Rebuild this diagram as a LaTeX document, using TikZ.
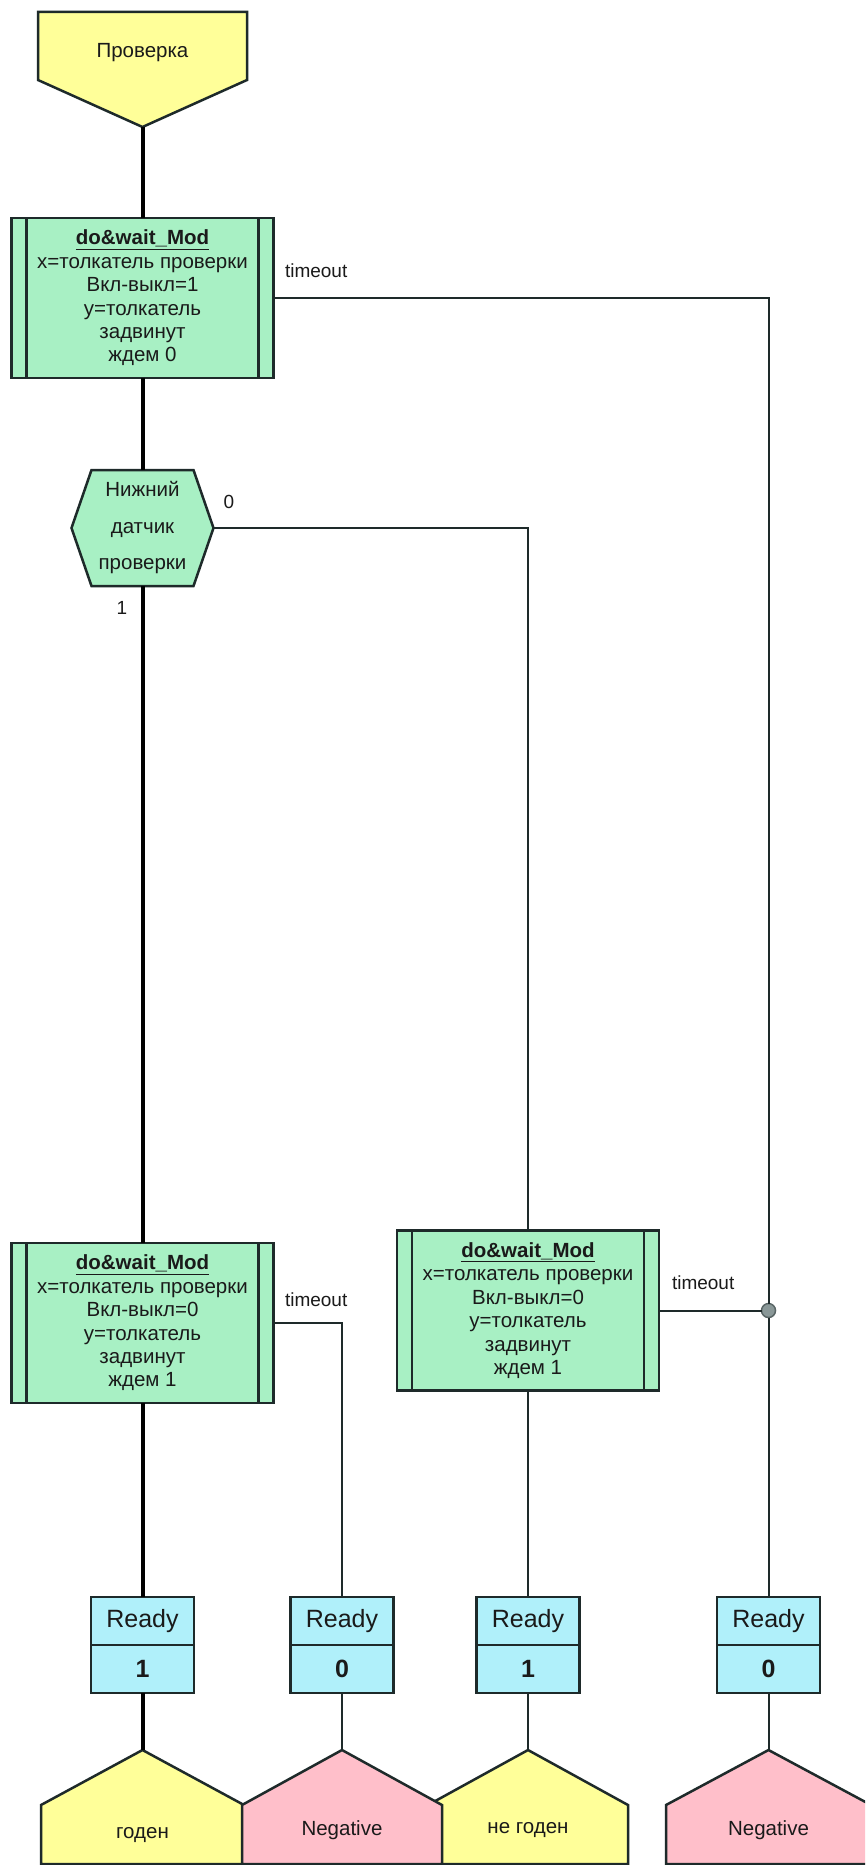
\documentclass[tikz,border=0pt]{standalone}
\usepackage{fontspec}
\setmainfont{Liberation Sans}
\usetikzlibrary{positioning,calc}
\definecolor{yel}{HTML}{FFFF99}
\definecolor{grn}{HTML}{A8F0C4}
\definecolor{pnk}{HTML}{FFBFCA}
\definecolor{cyn}{HTML}{B0F0FA}
\definecolor{edge}{HTML}{1E2A2A}
\definecolor{txt}{HTML}{1A1A1A}
\definecolor{jgray}{HTML}{8A9898}
\definecolor{jedge}{HTML}{5A6666}
\begin{document}
\begin{tikzpicture}[x=1pt,y=-1pt,
  every node/.style={text=txt, inner sep=0pt, outer sep=0pt},
  fnt/.style={font=\fontsize{20.5}{23.4}\selectfont},
  lbl/.style={font=\fontsize{19}{22}\selectfont},
  shapeline/.style={draw=edge, line width=2.5pt, line join=miter},
  modbox/.style={shapeline, fill=grn, minimum width=262pt, minimum height=160pt, align=center, fnt},
  innerline/.style={draw=edge, line width=2.5pt},
  hextext/.style={minimum width=142pt, minimum height=116pt, align=center, font=\fontsize{20.5}{36.5}\selectfont},
  rtop/.style={shapeline, fill=cyn, minimum width=103pt, minimum height=48pt, font=\fontsize{25}{28}\selectfont},
  rbot/.style={shapeline, fill=cyn, minimum width=103pt, minimum height=48pt, font=\fontsize{25}{28}\selectfont\bfseries},
  pentext/.style={font=\fontsize{20.5}{24}\selectfont},
  junc/.style={circle, draw=jedge, line width=1.5pt, fill=jgray, minimum size=14pt},
  spine/.style={draw=black, line width=4pt},
  wire/.style={draw=edge, line width=2pt}
]
\useasboundingbox (0,0) rectangle (865,1865);
\fill[white] (0,0) rectangle (865,1865);
\clip (0,0) rectangle (865,1865);

% start pentagon
\path[shapeline, fill=yel] (38,12) -- (247,12) -- (247,80) -- (142.5,127) -- (38,80) -- cycle;
\node[pentext] (prov) at (142.5,53) {Проверка};
\coordinate (provtip) at (142.5,127);

% hexagon
\path[shapeline, fill=grn] (71.5,528) -- (91.5,470) -- (193.5,470) -- (213.5,528) -- (193.5,586) -- (91.5,586) -- cycle;
\node[hextext] (hex) at (142.5,528) {Нижний\\датчик\\проверки};

% end pentagons
\path[shapeline, fill=yel] (41,1805) -- (142.5,1750) -- (244,1805) -- (244,1864) -- (41,1864) -- cycle;
\path[shapeline, fill=yel] (428,1805) -- (528,1750) -- (628,1805) -- (628,1864) -- (428,1864) -- cycle;
\path[shapeline, fill=pnk] (242,1805) -- (342,1750) -- (442,1805) -- (442,1864) -- (242,1864) -- cycle;
\path[shapeline, fill=pnk] (666,1805) -- (768.5,1750) -- (871,1805) -- (871,1864) -- (666,1864) -- cycle;
\node[pentext] (god) at (142.5,1835) {годен};
\node[pentext] (neg1) at (342,1830) {Negative};
\node[pentext] (negod) at (528,1830) {не годен};
\node[pentext] (neg2) at (768.5,1830) {Negative};
\coordinate (godtop) at (142.5,1750);
\coordinate (neg1top) at (342,1750);
\coordinate (negodtop) at (528,1750);
\coordinate (neg2top) at (768.5,1750);

% module boxes
\node[modbox] (b1) at (142.5,298) {\underline{\textbf{do\&wait\_Mod}}\\x=толкатель проверки\\Вкл-выкл=1\\y=толкатель\\задвинут\\ждем 0};
\node[modbox] (b2) at (142.5,1323) {\underline{\textbf{do\&wait\_Mod}}\\x=толкатель проверки\\Вкл-выкл=0\\y=толкатель\\задвинут\\ждем 1};
\node[modbox] (b3) at (528,1310.5) {\underline{\textbf{do\&wait\_Mod}}\\x=толкатель проверки\\Вкл-выкл=0\\y=толкатель\\задвинут\\ждем 1};
\foreach \b in {b1,b2,b3}{
  \draw[innerline] ([xshift=15pt]\b.north west) -- ([xshift=15pt]\b.south west);
  \draw[innerline] ([xshift=-15pt]\b.north east) -- ([xshift=-15pt]\b.south east);
}

% ready boxes
\node[rtop] (r1) at (142.5,1621) {Ready};
\node[rbot, below=0pt of r1] (r1v) {1};
\node[rtop] (r2) at (342,1621) {Ready};
\node[rbot, below=0pt of r2] (r2v) {0};
\node[rtop] (r3) at (528,1621) {Ready};
\node[rbot, below=0pt of r3] (r3v) {1};
\node[rtop] (r4) at (768.5,1621) {Ready};
\node[rbot, below=0pt of r4] (r4v) {0};

% junction
\node[junc] (j) at (768.5,1310.5) {};

% labels
\node[lbl, anchor=west] (to1) at (285,271) {timeout};
\node[lbl, anchor=west] (to2) at (285,1300) {timeout};
\node[lbl, anchor=west] (to3) at (672,1283) {timeout};
\node[lbl] (l0) at (229,502) {0};
\node[lbl] (l1) at (122,608) {1};

% connectors
\draw[spine] (provtip) -- (b1.north);
\draw[spine] (b1.south) -- (hex.north);
\draw[spine] (hex.south) -- (b2.north);
\draw[spine] (b2.south) -- (r1.north);
\draw[spine] (r1v.south) -- (godtop);
\draw[wire] (hex.east) -| (b3.north);
\draw[wire] (b3.south) -- (r3.north);
\draw[wire] (r3v.south) -- (negodtop);
\draw[wire] (b1.east) -| (j);
\draw[wire] (j) -- (r4.north);
\draw[wire] (b3.east) -- (j);
\draw[wire] (b2.east) -| (r2.north);
\draw[wire] (r2v.south) -- (neg1top);
\draw[wire] (r4v.south) -- (neg2top);
\end{tikzpicture}
\end{document}
